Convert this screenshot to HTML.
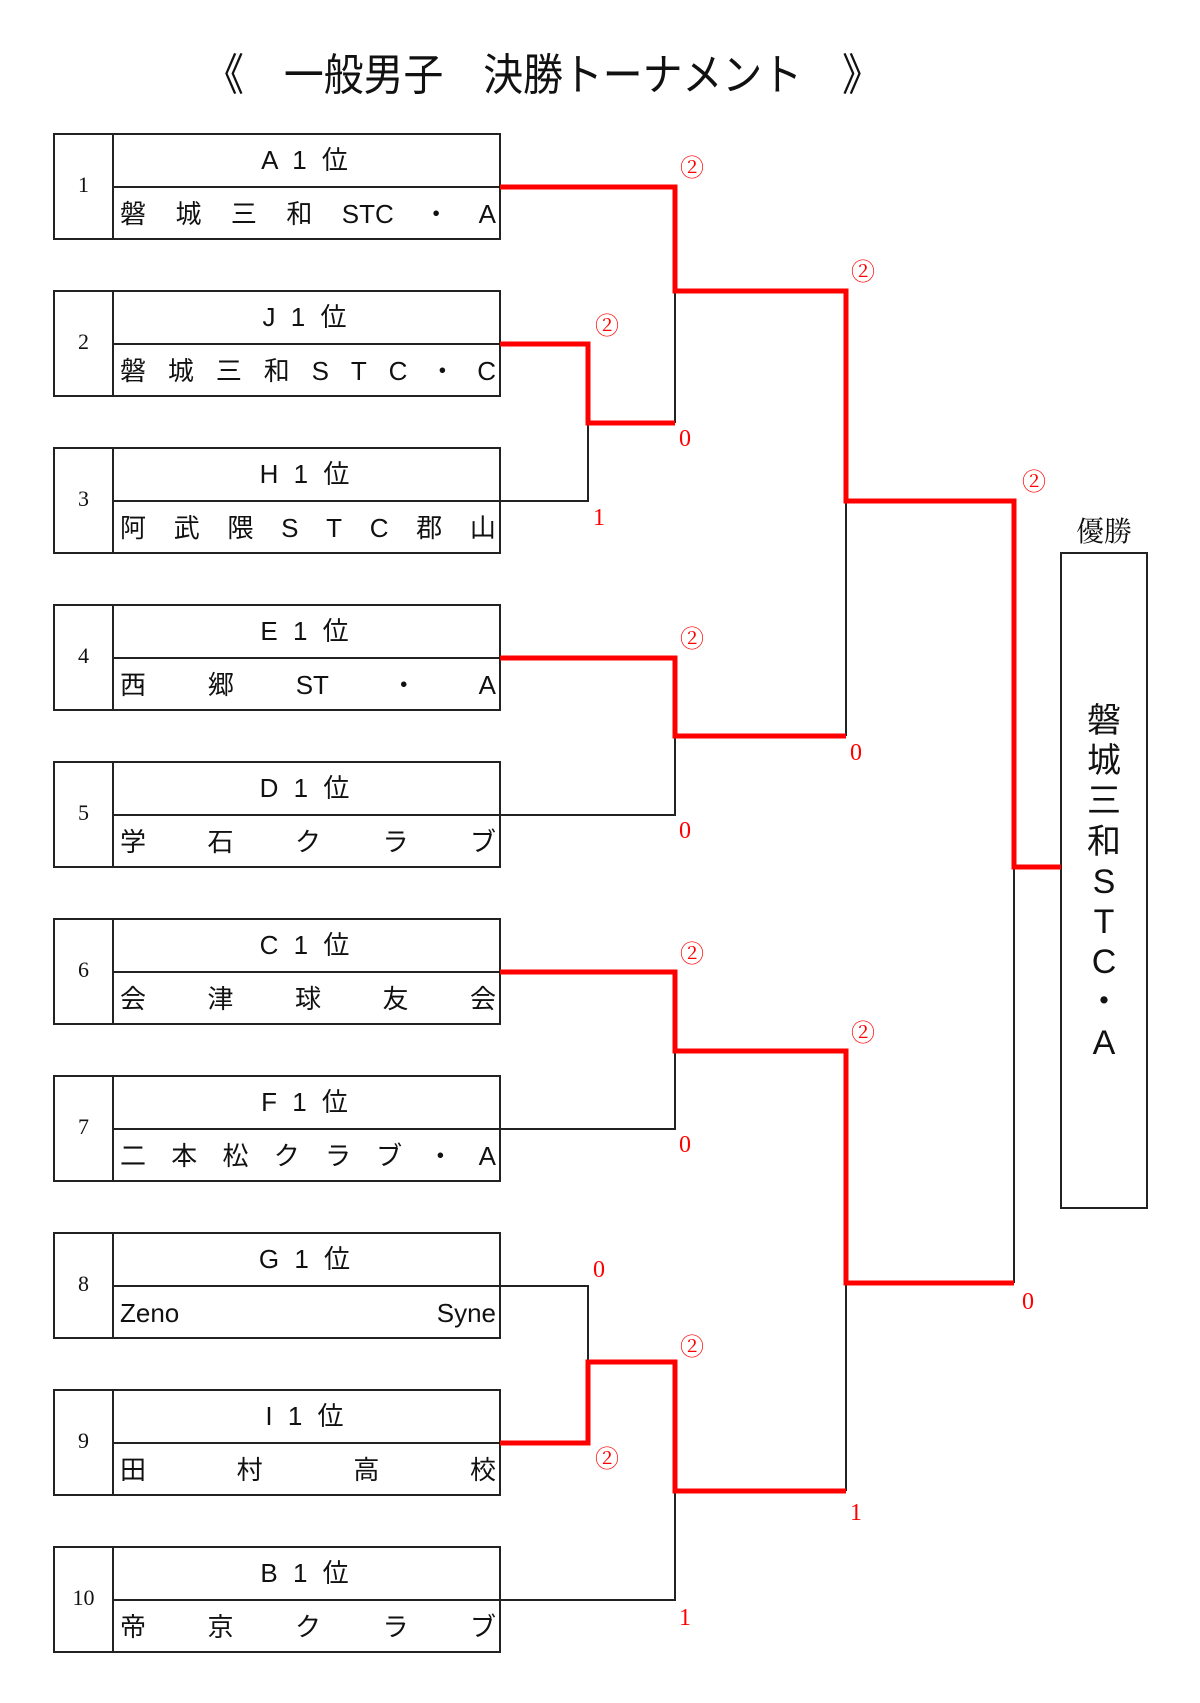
<!DOCTYPE html>
<html><head><meta charset="utf-8"><style>
body{margin:0;background:#fff;width:1200px;height:1703px;position:relative;overflow:hidden;font-family:"Liberation Sans","Noto Sans CJK JP",sans-serif;}
svg{position:absolute;left:0;top:0}
.row{position:absolute;left:120px;width:376px;display:flex;justify-content:space-between;font-size:26px;line-height:54px;height:54px;color:#111}
.lab{position:absolute;left:113px;width:387px;text-align:center;font-size:26px;line-height:53px;height:53px;letter-spacing:4px;color:#111}
.num{position:absolute;left:54px;width:59px;text-align:center;font-family:"Liberation Serif",serif;font-size:22px;color:#111}
.sc{position:absolute;color:#f00;font-family:"Liberation Serif","Noto Serif CJK SC",serif;font-size:24px;transform:translate(-50%,-50%);line-height:1}
</style></head><body>
<svg width="1200" height="1703">
<g fill="none" stroke="#222" stroke-width="2">
<rect x="54" y="134" width="446" height="105"/><line x1="113" y1="134" x2="113" y2="239"/><line x1="113" y1="187" x2="500" y2="187"/>
<rect x="54" y="291" width="446" height="105"/><line x1="113" y1="291" x2="113" y2="396"/><line x1="113" y1="344" x2="500" y2="344"/>
<rect x="54" y="448" width="446" height="105"/><line x1="113" y1="448" x2="113" y2="553"/><line x1="113" y1="501" x2="500" y2="501"/>
<rect x="54" y="605" width="446" height="105"/><line x1="113" y1="605" x2="113" y2="710"/><line x1="113" y1="658" x2="500" y2="658"/>
<rect x="54" y="762" width="446" height="105"/><line x1="113" y1="762" x2="113" y2="867"/><line x1="113" y1="815" x2="500" y2="815"/>
<rect x="54" y="919" width="446" height="105"/><line x1="113" y1="919" x2="113" y2="1024"/><line x1="113" y1="972" x2="500" y2="972"/>
<rect x="54" y="1076" width="446" height="105"/><line x1="113" y1="1076" x2="113" y2="1181"/><line x1="113" y1="1129" x2="500" y2="1129"/>
<rect x="54" y="1233" width="446" height="105"/><line x1="113" y1="1233" x2="113" y2="1338"/><line x1="113" y1="1286" x2="500" y2="1286"/>
<rect x="54" y="1390" width="446" height="105"/><line x1="113" y1="1390" x2="113" y2="1495"/><line x1="113" y1="1443" x2="500" y2="1443"/>
<rect x="54" y="1547" width="446" height="105"/><line x1="113" y1="1547" x2="113" y2="1652"/><line x1="113" y1="1600" x2="500" y2="1600"/>
<rect x="1061" y="553" width="86" height="655"/>
<polyline points="500,501 588,501 588,423"/>
<line x1="675" y1="291" x2="675" y2="423"/>
<polyline points="500,815 675,815 675,736"/>
<line x1="846" y1="501" x2="846" y2="736"/>
<polyline points="500,1129 675,1129 675,1051"/>
<polyline points="500,1286 588,1286 588,1360"/>
<polyline points="500,1600 675,1600 675,1491"/>
<line x1="846" y1="1283" x2="846" y2="1491"/>
<line x1="1014" y1="867" x2="1014" y2="1283"/>
</g>
<g fill="none" stroke="#f00" stroke-width="5" stroke-linejoin="miter">
<polyline points="500,344 588,344 588,423 675,423"/>
<polyline points="500,187 675,187 675,291 846,291 846,501 1014,501 1014,867 1061,867"/>
<polyline points="500,658 675,658 675,736 846,736"/>
<polyline points="500,972 675,972 675,1051 846,1051 846,1283 1014,1283"/>
<polyline points="500,1443 588,1443 588,1362 675,1362 675,1491 846,1491"/>
</g>
</svg>
<div style="position:absolute;left:143px;top:40px;width:800px;text-align:center;font-size:44px;line-height:62px;color:#111;font-family:'Noto Sans CJK JP',sans-serif;transform:scaleX(0.906);white-space:nowrap">《　一般男子　決勝トーナメント　》</div>

<div class="num" style="top:172px">1</div><div class="num" style="top:329px">2</div><div class="num" style="top:486px">3</div><div class="num" style="top:643px">4</div><div class="num" style="top:800px">5</div><div class="num" style="top:957px">6</div><div class="num" style="top:1114px">7</div><div class="num" style="top:1271px">8</div><div class="num" style="top:1428px">9</div><div class="num" style="top:1585px">10</div>

<div class="lab" style="top:134px">A 1 位</div><div class="lab" style="top:291px">J 1 位</div><div class="lab" style="top:448px">H 1 位</div><div class="lab" style="top:605px">E 1 位</div><div class="lab" style="top:762px">D 1 位</div><div class="lab" style="top:919px">C 1 位</div><div class="lab" style="top:1076px">F 1 位</div><div class="lab" style="top:1233px">G 1 位</div><div class="lab" style="top:1390px">I 1 位</div><div class="lab" style="top:1547px">B 1 位</div>

<div class="row" style="top:187px"><span>磐</span><span>城</span><span>三</span><span>和</span><span>STC</span><span>・</span><span>A</span></div>
<div class="row" style="top:344px"><span>磐</span><span>城</span><span>三</span><span>和</span><span>S</span><span>T</span><span>C</span><span>・</span><span>C</span></div>
<div class="row" style="top:501px"><span>阿</span><span>武</span><span>隈</span><span>S</span><span>T</span><span>C</span><span>郡</span><span>山</span></div>
<div class="row" style="top:658px"><span>西</span><span>郷</span><span>ST</span><span>・</span><span>A</span></div>
<div class="row" style="top:815px"><span>学</span><span>石</span><span>ク</span><span>ラ</span><span>ブ</span></div>
<div class="row" style="top:972px"><span>会</span><span>津</span><span>球</span><span>友</span><span>会</span></div>
<div class="row" style="top:1129px"><span>二</span><span>本</span><span>松</span><span>ク</span><span>ラ</span><span>ブ</span><span>・</span><span>A</span></div>
<div class="row" style="top:1286px"><span>Zeno</span><span>Syne</span></div>
<div class="row" style="top:1443px"><span>田</span><span>村</span><span>高</span><span>校</span></div>
<div class="row" style="top:1600px"><span>帝</span><span>京</span><span>ク</span><span>ラ</span><span>ブ</span></div>

<div style="position:absolute;left:1060px;top:510px;width:88px;text-align:center;font-size:28px;color:#111;font-family:'Noto Serif CJK SC',serif">優勝</div>
<div style="position:absolute;left:1061px;top:701px;width:86px;text-align:center;font-size:34px;line-height:40.2px;color:#111">磐<br>城<br>三<br>和<br>S<br>T<br>C<br>・<br>A</div>

<div class="sc" style="left:692px;top:169px">②</div>
<div class="sc" style="left:685px;top:439px">0</div>
<div class="sc" style="left:607px;top:327px">②</div>
<div class="sc" style="left:599px;top:518px">1</div>
<div class="sc" style="left:863px;top:273px">②</div>
<div class="sc" style="left:1034px;top:483px">②</div>
<div class="sc" style="left:692px;top:640px">②</div>
<div class="sc" style="left:856px;top:753px">0</div>
<div class="sc" style="left:685px;top:831px">0</div>
<div class="sc" style="left:692px;top:955px">②</div>
<div class="sc" style="left:863px;top:1034px">②</div>
<div class="sc" style="left:685px;top:1145px">0</div>
<div class="sc" style="left:599px;top:1270px">0</div>
<div class="sc" style="left:692px;top:1348px">②</div>
<div class="sc" style="left:607px;top:1460px">②</div>
<div class="sc" style="left:1028px;top:1302px">0</div>
<div class="sc" style="left:856px;top:1513px">1</div>
<div class="sc" style="left:685px;top:1618px">1</div>
</body></html>
